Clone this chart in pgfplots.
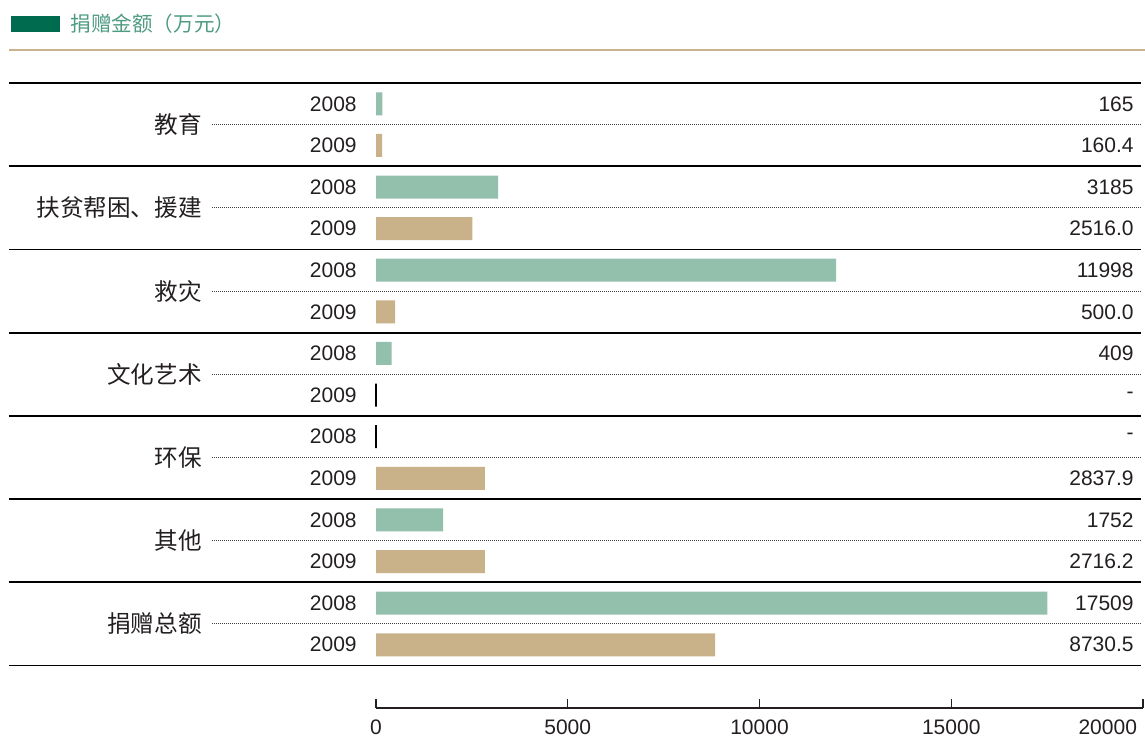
\documentclass[border=0pt]{standalone}
\usepackage{fontspec}
\setmainfont{Liberation Sans}
\newfontfamily\cjk{Noto Sans CJK SC}
\usepackage{pgfplots}
\pgfplotsset{compat=1.18}
\definecolor{gbar}{HTML}{93BFAD}
\definecolor{tbar}{HTML}{C9B189}
\definecolor{dkgreen}{HTML}{006B4F}
\definecolor{ttl}{HTML}{4E9A82}
\definecolor{tanline}{HTML}{C8B38E}
\definecolor{txt}{HTML}{231F20}
\begin{document}
\begin{tikzpicture}
\path[use as bounding box] (0,0) rectangle (572.5bp,374.5bp);
\fill[dkgreen] (5.5bp,358.5bp) rectangle (30bp,366.5bp);
\node[anchor=west, inner sep=0, text=ttl, font=\cjk\fontsize{10.3bp}{12bp}\selectfont] at (35bp,362.5bp) {捐赠金额（万元）};
\draw[tanline, line width=1.2bp] (4.5bp,349.5bp) -- (572.5bp,349.5bp);
\begin{axis}[
  at={(188bp,20.5bp)}, anchor=south west,
  scale only axis, width=383.5bp, height=312.5bp,
  xmin=0, xmax=20000, ymin=-0.52, ymax=14.5,
  axis x line=bottom, axis y line=none,
  axis line style={-, line width=0.6bp, txt},
  xtick={0,5000,10000,15000}, tick align=inside, major tick length=4.5bp,
  extra x ticks={20000},
  extra x tick style={xticklabel style={anchor=north east, xshift=0.5bp}},
  xtick style={line width=0.6bp, txt},
  scaled x ticks=false,
  /pgf/number format/assume math mode=true,
  /pgf/number format/set thousands separator={},
  xticklabel style={font=\fontsize{10.5bp}{12bp}\selectfont, text=txt, yshift=-2.5bp},
  ytick=\empty,
  clip=false,
  xbar, bar shift=0pt, bar width=11.5bp,
]
\addplot[fill=gbar, draw=none] coordinates {(165,14) (3185,12) (11998,10) (409,8) (1752,4) (17509,2)};
\addplot[fill=tbar, draw=none] coordinates {(160.4,13) (2516,11) (500,9) (2838,5) (2840,3) (8840,1)};
\addplot[fill=none, draw=black, line width=0.6bp] coordinates {(0,7) (0,6)};
\pgfplotsinvokeforeach{14.5,12.5,10.5,8.5,6.5,4.5,2.5,0.5}{
  \draw[line width=0.85bp, black] (axis cs:-9570,#1) -- (axis cs:19948,#1);
}
\pgfplotsinvokeforeach{13.5,11.5,9.5,7.5,5.5,3.5,1.5}{
  \draw[line width=0.5bp, black!75, dash pattern=on 0.5bp off 0.5bp] (axis cs:-4276,#1) -- (axis cs:19948,#1);
}
\tikzset{cat/.style={anchor=east, inner sep=0, text=txt, font=\cjk\fontsize{11.8bp}{13bp}\selectfont},
         yr/.style={anchor=east, inner sep=0, text=txt, font=\fontsize{10.5bp}{12bp}\selectfont}}
\node[cat] at (axis cs:-4537,13.5) {教育};
\node[cat] at (axis cs:-4537,11.5) {扶贫帮困、援建};
\node[cat] at (axis cs:-4537,9.5) {救灾};
\node[cat] at (axis cs:-4537,7.5) {文化艺术};
\node[cat] at (axis cs:-4537,5.5) {环保};
\node[cat] at (axis cs:-4537,3.5) {其他};
\node[cat] at (axis cs:-4537,1.5) {捐赠总额};
\pgfplotsinvokeforeach{14,12,10,8,6,4,2}{
  \node[yr] at (axis cs:-495,#1) {2008};
}
\pgfplotsinvokeforeach{13,11,9,7,5,3,1}{
  \node[yr] at (axis cs:-495,#1) {2009};
}
\node[yr] at (axis cs:19765,14) {165};
\node[yr] at (axis cs:19765,13) {160.4};
\node[yr] at (axis cs:19765,12) {3185};
\node[yr] at (axis cs:19765,11) {2516.0};
\node[yr] at (axis cs:19765,10) {11998};
\node[yr] at (axis cs:19765,9) {500.0};
\node[yr] at (axis cs:19765,8) {409};
\node[yr] at (axis cs:19765,7) {-};
\node[yr] at (axis cs:19765,6) {-};
\node[yr] at (axis cs:19765,5) {2837.9};
\node[yr] at (axis cs:19765,4) {1752};
\node[yr] at (axis cs:19765,3) {2716.2};
\node[yr] at (axis cs:19765,2) {17509};
\node[yr] at (axis cs:19765,1) {8730.5};
\end{axis}
\end{tikzpicture}
\end{document}
